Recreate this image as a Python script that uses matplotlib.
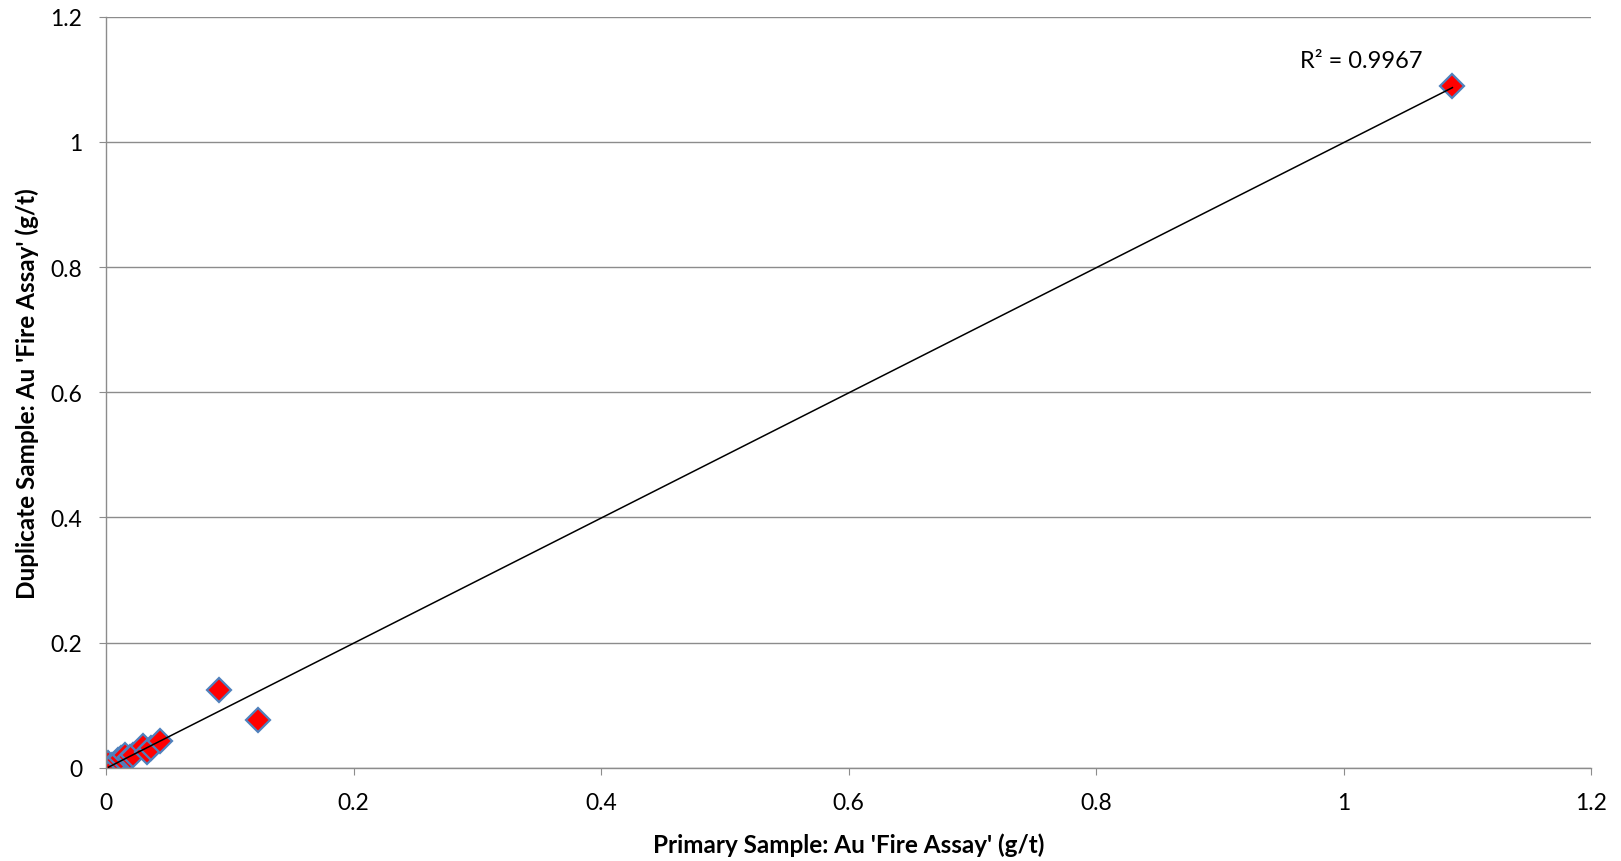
import numpy as np
import matplotlib
matplotlib.use('Agg')
import matplotlib.pyplot as plt

# --- data ---
primary = [0.002, 0.005, 0.008, 0.010, 0.012, 0.015, 0.019, 0.022,
           0.030, 0.033, 0.036, 0.044, 0.091, 0.123, 1.088]
duplicate = [0.008, 0.005, 0.003, 0.012, 0.016, 0.021, 0.017, 0.020,
             0.035, 0.025, 0.031, 0.043, 0.124, 0.076, 1.089]
r2_label = "R² = 0.9967"

x_ticks = [0, 0.2, 0.4, 0.6, 0.8, 1, 1.2]
y_ticks = [0, 0.2, 0.4, 0.6, 0.8, 1, 1.2]

plt.rcParams['font.family'] = ['Lato', 'DejaVu Sans']

fig = plt.figure(figsize=(16.21, 8.62), dpi=100)
ax = fig.add_axes([0.0654, 0.108, 0.9161, 0.8716])

# linear trendline over the data range (like Excel)
x = np.array(primary)
y = np.array(duplicate)
slope, intercept = np.polyfit(x, y, 1)
xs = np.array([x.min(), x.max()])
ax.plot(xs, slope * xs + intercept, color='black', linewidth=1.1, zorder=3)

ax.plot(primary, duplicate, linestyle='none', marker='D', markersize=12.5,
        markerfacecolor='#ff0000', markeredgecolor='#4f81bd',
        markeredgewidth=1.6, zorder=2)

ax.text(0.965, 1.13, r2_label, fontsize=17, va='center', ha='left')

ax.set_xlim(0, 1.2)
ax.set_ylim(0, 1.2)
ax.set_xticks(x_ticks)
ax.set_yticks(y_ticks)
ax.set_xticklabels([f"{v:g}" for v in x_ticks])
ax.set_yticklabels([f"{v:g}" for v in y_ticks])

ax.grid(axis='y', color='#8c8c8c', linewidth=1.0)
ax.set_axisbelow(True)
for side in ['top', 'right']:
    ax.spines[side].set_visible(False)
for side in ['left', 'bottom']:
    ax.spines[side].set_color('#8c8c8c')
    ax.spines[side].set_linewidth(1.0)

ax.tick_params(axis='both', labelsize=16.5, color='#8c8c8c', length=5,
               direction='out')
ax.tick_params(axis='x', pad=12)
ax.tick_params(axis='y', pad=12)

ax.set_xlabel("Primary Sample: Au 'Fire Assay' (g/t)", fontsize=17.5,
              fontweight='bold', labelpad=14)
ax.set_ylabel("Duplicate Sample: Au 'Fire Assay' (g/t)", fontsize=17.5,
              fontweight='bold', labelpad=8)

fig.savefig('out.png', dpi=100)
plt.close(fig)
